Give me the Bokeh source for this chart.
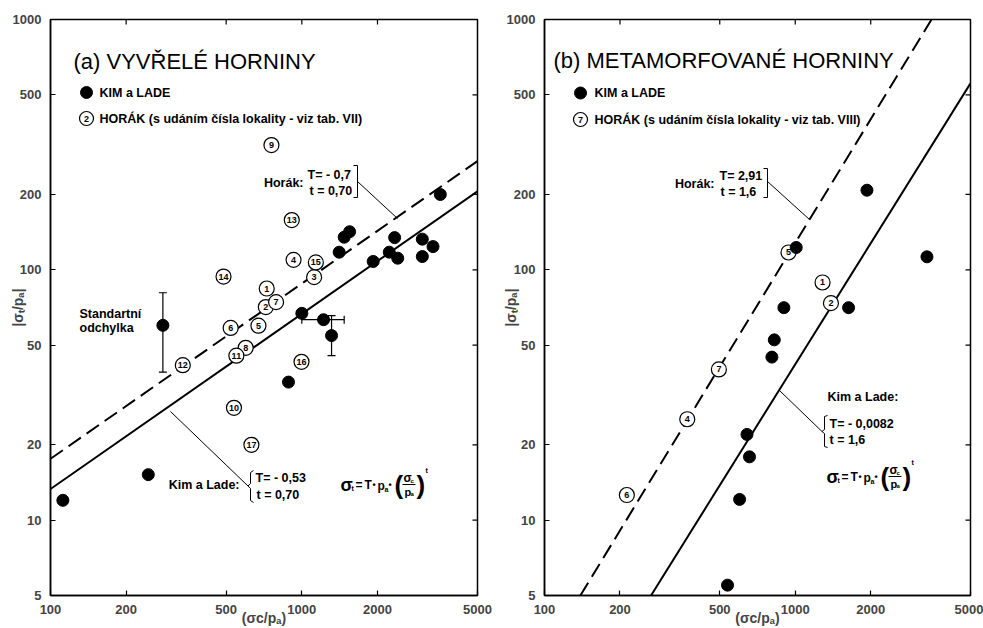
import numpy as np
from bokeh.plotting import figure
from bokeh.layouts import row
from bokeh.models import (FixedTicker, NumeralTickFormatter, Label, Whisker,
                          ColumnDataSource, TeeHead, Range1d)
from bokeh.core.properties import value
from bokeh.embed import file_html
from bokeh.resources import INLINE

FONT = "Liberation Sans"

# ---------------- data ----------------
x_ticks = [100, 200, 500, 1000, 2000, 5000]
y_ticks = [5, 10, 20, 50, 100, 200, 500, 1000]

# panel (a) igneous rocks
a_kim_x = [112, 245, 280, 885, 1000, 1220, 1313, 1408, 1474, 1549, 1923, 2228, 2340, 2407, 3016, 3016, 3326, 3556]
a_kim_y = [12.0, 15.2, 60, 35.6, 67, 63.2, 54.6, 117.6, 135, 142, 108, 117.6, 134.5, 111.3, 132.6, 113, 123.8, 200]
a_hor_id = ["1", "2", "3", "4", "5", "6", "7", "8", "9", "10", "11", "12", "13", "14", "15", "16", "17"]
a_hor_x = [725, 719, 1119, 927, 672, 521, 790, 598, 757, 537, 549, 336, 912, 488, 1137, 997, 630]
a_hor_y = [84.2, 71, 93.5, 109.6, 59.8, 58.6, 74.3, 48.8, 315, 28.1, 45.4, 41.6, 158, 94, 107, 42.9, 20]
# error bars (a)
a_verr_x = [280, 1313]
a_verr_lo = [39, 45.4]
a_verr_hi = [81, 65.6]
a_herr_y = [63.2]
a_herr_lo = [1000]
a_herr_hi = [1474]
# fitted lines (a): |st/pa| = T * (sc/pa)^t
a_line_x = [100, 5000]
a_kim_T, a_kim_t = 0.53, 0.70
a_hor_T, a_hor_t = 0.70, 0.70

# panel (b) metamorphic rocks
b_kim_x = [537, 600, 642, 657, 807, 825, 901, 1009, 1632, 1932, 3352]
b_kim_y = [5.5, 12.1, 22.0, 17.9, 44.8, 52.5, 70.6, 122.8, 70.6, 208, 112.7]
b_hor_id = ["1", "2", "3", "4", "5", "6", "7"]
b_hor_x = [1285, 1388, 91, 371, 940, 213, 496]
b_hor_y = [89, 73.6, 12.4, 25.3, 117.3, 12.6, 40]
# lines (b) as drawn (end points)
b_kim_line_x = [266, 5000]
b_kim_line_y = [5, 556]
b_hor_line_x = [139, 3495]
b_hor_line_y = [5, 1000]

# ---------------- helpers ----------------
GA = dict(L=50, R=477, T=19, B=595)
GB = dict(L=544, R=970, T=19, B=595)


def px2data(g, px, py):
    fx = (px - g["L"]) / (g["R"] - g["L"])
    fy = (g["B"] - py) / (g["B"] - g["T"])
    return 10 ** (2 + fx * np.log10(50)), 10 ** (np.log10(5) + fy * np.log10(200))


def put(p, g, px, py, s, size=12.5, bold=True, align="left", angle=0.0):
    x, y = px2data(g, px, py)
    p.add_layout(Label(x=x, y=y, text=s, text_font=FONT, text_font_size=f"{size}px",
                       text_font_style="bold" if bold else "normal", text_align=align,
                       text_baseline="middle", angle=angle, text_color="black"))


def seq(p, g, px, py, parts, bold=True):
    cum = 0
    for text, size, adv, shift in parts:
        put(p, g, px + cum, py + shift, text, size=size, bold=bold)
        cum += adv


def deco(p, g, pts, width=1.0):
    xs, ys = zip(*[px2data(g, a, b) for a, b in pts])
    p.line(list(xs), list(ys), line_color="black", line_width=width)


def formula(p, g, x0, y0):
    seq(p, g, x0, y0, [("σ", 18, 11, 0), ("t", 7, 4, 4), ("=", 12, 9, 0), ("T", 12, 8, 0),
                       ("•", 9, 5, 0), ("p", 12, 7, 1), ("a", 7, 4, 5), ("•", 9, 6, 0),
                       ("(", 26, 8, 0)])
    fx = x0 + 62
    seq(p, g, fx + 1, y0 - 7, [("σ", 12, 7, 0), ("c", 6, 4, 3)])
    deco(p, g, [(fx, y0), (fx + 13, y0)], 1)
    seq(p, g, fx + 2, y0 + 7, [("p", 11, 6, 0), ("a", 6, 4, 2)])
    put(p, g, fx + 14, y0, ")", size=26)
    put(p, g, fx + 23, y0 - 14, "t", size=7)


def make_fig(width, mbl, mbr, ylab_standoff):
    p = figure(width=width, height=628, x_axis_type="log", y_axis_type="log",
               x_range=Range1d(100, 5000), y_range=Range1d(5, 1000),
               output_backend="svg", toolbar_location=None,
               min_border_left=mbl, min_border_right=mbr, min_border_top=19, min_border_bottom=33)
    p.xgrid.visible = False
    p.ygrid.visible = False
    p.outline_line_color = "black"
    p.outline_line_width = 1.5
    p.background_fill_color = "white"
    p.border_fill_color = "white"
    for ax, ticks in ((p.xaxis[0], x_ticks), (p.yaxis[0], y_ticks)):
        ax.ticker = FixedTicker(ticks=ticks)
        ax.formatter = NumeralTickFormatter(format="0")
        ax.major_tick_in = 5
        ax.major_tick_out = 0
        ax.minor_tick_line_color = None
        ax.major_tick_line_width = 1.2
        ax.axis_line_width = 1.5
        ax.major_label_text_font = FONT
        ax.major_label_text_font_style = "bold"
        ax.major_label_text_font_size = "13px"
        ax.major_label_standoff = 9
        ax.axis_label_text_font = FONT
        ax.axis_label_text_font_style = "bold"
        ax.axis_label_text_font_size = "14px"
    p.xaxis[0].axis_label = "(σc/pₐ)"
    p.xaxis[0].axis_label_standoff = -7
    p.yaxis[0].axis_label = "|σₜ/pₐ|"
    p.yaxis[0].axis_label_standoff = ylab_standoff
    # mirrored inner ticks on the top and right edges
    p.scatter(x_ticks[1:-1], [y_ticks[-1]] * (len(x_ticks) - 2), marker="dash", angle=np.pi / 2,
              size=10, line_color="black", line_width=1.2)
    p.scatter([x_ticks[-1]] * (len(y_ticks) - 2), y_ticks[1:-1], marker="dash",
              size=10, line_color="black", line_width=1.2)
    return p


def hor_points(p, xs, ys, ids):
    p.scatter(xs, ys, marker="circle", size=15, fill_color="white", line_color="black", line_width=1.2)
    p.text(xs, ys, text=ids, text_font=value(FONT), text_font_size="9px", text_font_style="bold",
           text_align="center", text_baseline="middle", text_color="black")


def kim_points(p, xs, ys):
    p.scatter(xs, ys, marker="circle", size=12, fill_color="black", line_color="black")


# ---------------- panel (a) ----------------
pa = make_fig(493, 50, 16, -16)
a_kim_line_y = [a_kim_T * v ** a_kim_t for v in a_line_x]
a_hor_line_y = [a_hor_T * v ** a_hor_t for v in a_line_x]
pa.line(a_line_x, a_kim_line_y, line_color="black", line_width=2)
pa.line(a_line_x, a_hor_line_y, line_color="black", line_width=2, line_dash="15 7")
hor_points(pa, a_hor_x, a_hor_y, a_hor_id)
kim_points(pa, a_kim_x, a_kim_y)
pa.add_layout(Whisker(source=ColumnDataSource(dict(b=a_verr_x, lo=a_verr_lo, hi=a_verr_hi)),
                      base="b", lower="lo", upper="hi", dimension="height", line_width=1.2,
                      upper_head=TeeHead(size=8, line_width=1.2), lower_head=TeeHead(size=8, line_width=1.2)))
pa.add_layout(Whisker(source=ColumnDataSource(dict(b=a_herr_y, lo=a_herr_lo, hi=a_herr_hi)),
                      base="b", lower="lo", upper="hi", dimension="width", line_width=1.2,
                      upper_head=TeeHead(size=8, line_width=1.2), lower_head=TeeHead(size=8, line_width=1.2)))

put(pa, GA, 73, 61, "(a) VYVŘELÉ HORNINY", size=22, bold=False)
lx, ly = px2data(GA, 86, 92)
pa.scatter([lx], [ly], marker="circle", size=12, fill_color="black", line_color="black")
put(pa, GA, 99, 92.5, "KIM a LADE")
lx, ly = px2data(GA, 86, 118)
pa.scatter([lx], [ly], marker="circle", size=14, fill_color="white", line_color="black", line_width=1.2)
put(pa, GA, 86, 118.5, "2", size=9, align="center")
put(pa, GA, 99, 118.5, "HORÁK (s udáním čísla lokality - viz tab. VII)")

put(pa, GA, 303, 182, "Horák:", align="right")
put(pa, GA, 307, 174, "T= - 0,7")
put(pa, GA, 309, 190, "t = 0,70")
deco(pa, GA, [(353, 165), (357, 165), (357, 197), (353, 197)])
deco(pa, GA, [(357, 181), (397, 218)])

put(pa, GA, 79, 313, "Standartní")
put(pa, GA, 79, 327, "odchylka")

put(pa, GA, 239, 484, "Kim a Lade:", align="right")
put(pa, GA, 255, 477, "T= - 0,53")
put(pa, GA, 256, 494, "t = 0,70")
deco(pa, GA, [(253, 470), (250, 472), (250, 483), (247.5, 485.5), (250, 488), (250, 500), (253, 502)])
deco(pa, GA, [(170, 411), (247.5, 485.5)])
formula(pa, GA, 340, 484)

# ---------------- panel (b) ----------------
pb = make_fig(490, 51, 13, -15)
pb.line(b_kim_line_x, b_kim_line_y, line_color="black", line_width=2)
pb.line(b_hor_line_x, b_hor_line_y, line_color="black", line_width=2, line_dash="15 7")
hor_points(pb, b_hor_x, b_hor_y, b_hor_id)
kim_points(pb, b_kim_x, b_kim_y)

put(pb, GB, 553, 60, "(b) METAMORFOVANÉ HORNINY", size=22, bold=False)
lx, ly = px2data(GB, 580, 92.5)
pb.scatter([lx], [ly], marker="circle", size=12, fill_color="black", line_color="black")
put(pb, GB, 594, 92.5, "KIM a LADE")
lx, ly = px2data(GB, 580, 119)
pb.scatter([lx], [ly], marker="circle", size=14, fill_color="white", line_color="black", line_width=1.2)
put(pb, GB, 580, 119.5, "7", size=9, align="center")
put(pb, GB, 594, 119.5, "HORÁK (s udáním čísla lokality - viz tab. VIII)")

put(pb, GB, 714, 183, "Horák:", align="right")
put(pb, GB, 719, 175, "T= 2,91")
put(pb, GB, 720, 191, "t = 1,6")
deco(pb, GB, [(763, 168), (767, 168), (767, 197), (763, 197)])
deco(pb, GB, [(767, 181), (809, 219)])

put(pb, GB, 827, 396, "Kim a Lade:")
put(pb, GB, 829, 423, "T= - 0,0082")
put(pb, GB, 829, 439, "t = 1,6")
deco(pb, GB, [(827, 415), (824, 416), (824, 429), (821.5, 431), (824, 433), (824, 446), (827, 447)])
deco(pb, GB, [(779, 390), (821.5, 431)])
formula(pb, GB, 826, 476)

layout = row(pa, pb)
open("out.html", "w").write(file_html(layout, INLINE))
